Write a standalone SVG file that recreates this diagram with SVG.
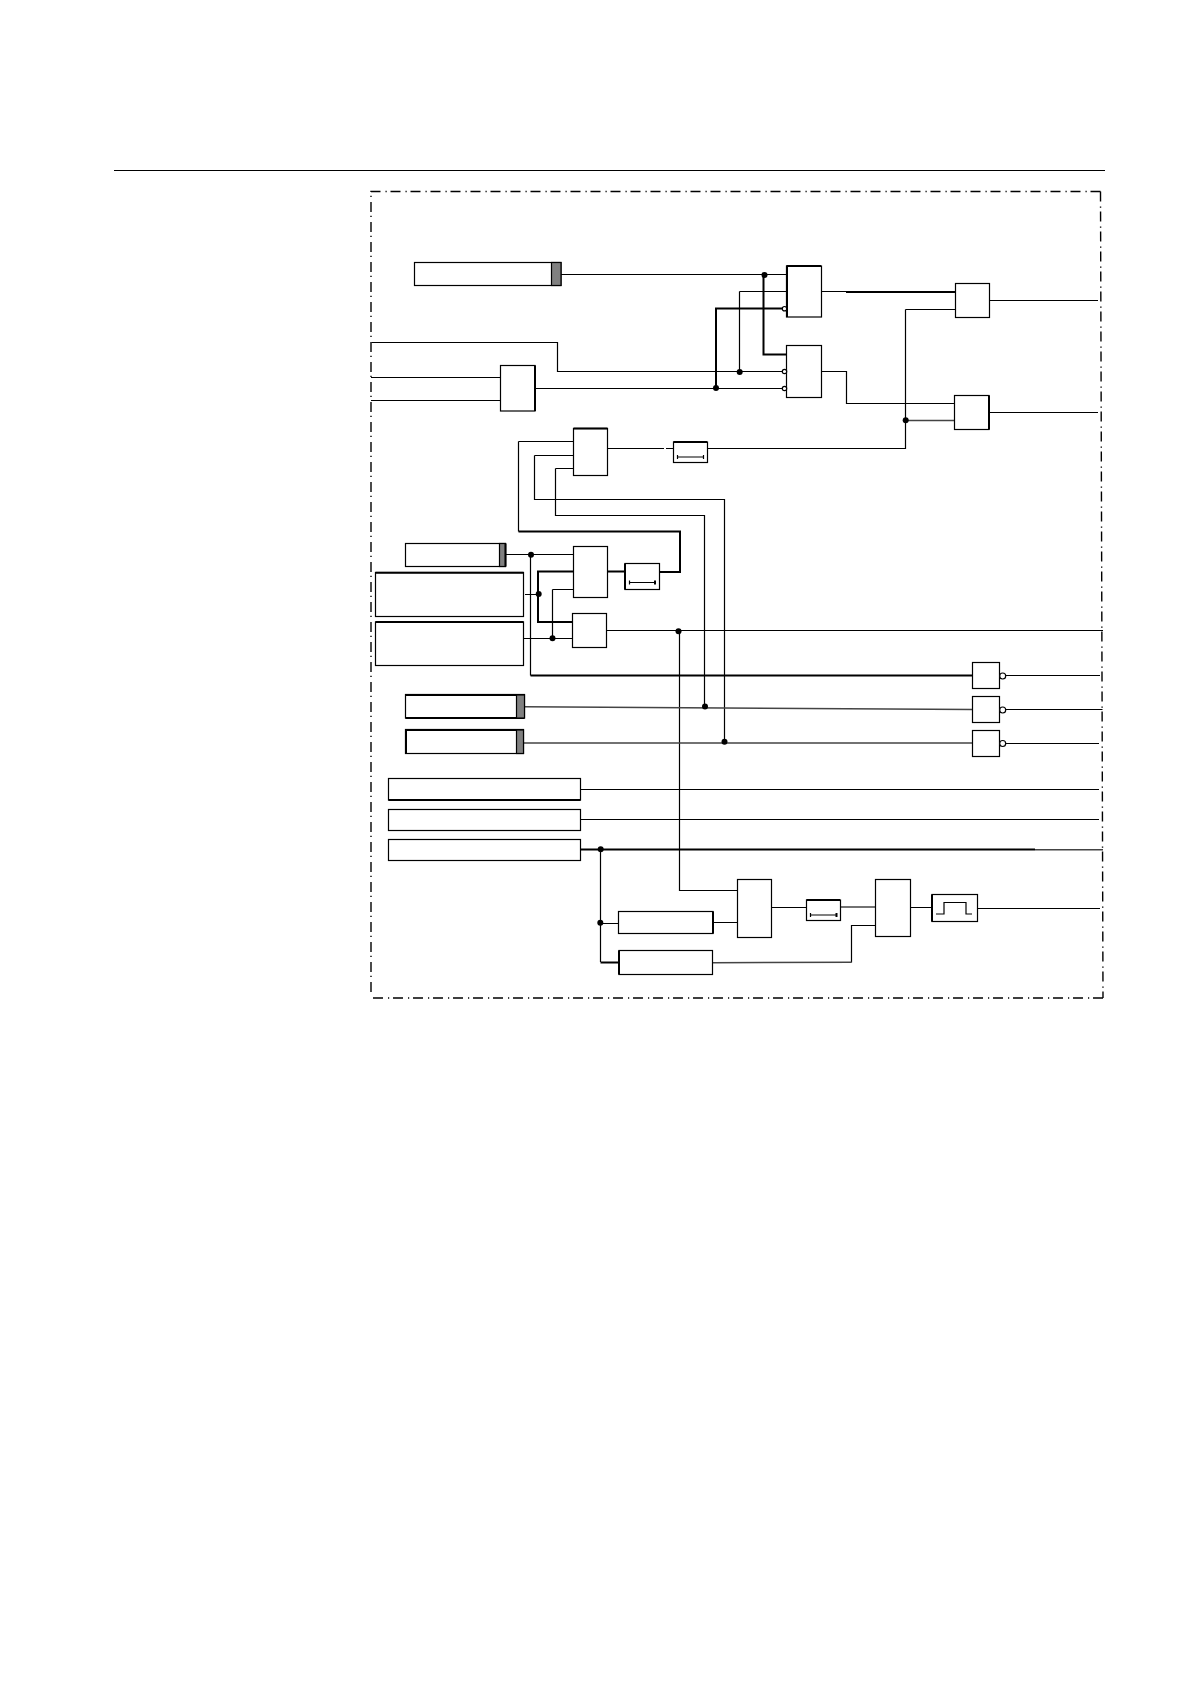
<svg xmlns="http://www.w3.org/2000/svg" width="1191" height="1684" viewBox="0 0 1191 1684">
<style>
.b{fill:#fff;stroke:#000;stroke-width:1.2}
.e{fill:none;stroke:#000;stroke-width:2}
.g{fill:#808080;stroke:#000;stroke-width:1.2}
.w{fill:none;stroke:#000;stroke-width:1.2}
.t{fill:none;stroke:#000;stroke-width:2}
.d{fill:none;stroke:#444;stroke-width:1.5}
.f{fill:none;stroke:#000;stroke-width:1.4;stroke-dasharray:10 5 1.2 3.8}
.n{fill:#fff;stroke:#000;stroke-width:1.2}
.j{fill:#000}
</style>
<rect width="1191" height="1684" fill="#fff"/>
<path d="M114 170.500H1105" class="w"/>
<g id="frame">
<path class="f" d="M371 992V191.500H1100.500"/>
<path class="f" d="M1100.500 191.500L1103 998"/>
<path class="f" d="M373 998H1103"/>
</g>
<g id="connectors">
<path class="w" d="M561 274.500H786.500M739.500 291.500H786.500M739.500 291.500V372M371.500 342.500H557.500V371.500H782M371 377.500H501M371 400.500H501M535 388.500H782M821 291.500H846M989.500 300.500H1098M905.500 309.500H955M905.500 309.500V448.500H707M821 371.500H846.500V403.500H954M989 412.500H1098M607 448.500H664M666 448.500H673.500M518.500 441.500H573M518.500 441.500V531.500M534.500 455.500H573M534.500 455.500V499.500H724.500V742M555.500 468.500H573M555.500 468.500V515.500H704.500V707M506 554.500H573M530.500 554.500V675.500M525 594.500H538M524 638.500H572M552.500 589.500V638.500H552.500M552.500 589.500H573M606.500 630.500H1103M679.500 631V890.500H737M1006 675.500H1100M1006 709.500H1102.500M1006 743.500H1099M580 789.500H1099M580 819.500H1099M600.500 849V962M600.500 923.500H618M713 922.500H737M851.500 962.500V925.500H875M771.500 907.500H806.500M910.500 907.500H932M978 908.500H1100M607 571.500H625"/>
<path class="t" d="M716 388V308.500H783M763.500 275V354.500H786.500M846 292H955M518.500 531.500H680V572H660M538 594V571.500H573M538 571.500V622H572M530.500 675.500H973M580 849.500H1035M600.500 962.500H618M607 571.500H625"/>
<path class="d" d="M525 706.800L972 709.500M524 743H972M905.500 420.500H954M1035 849.700H1103M712.700 962.700L851.500 962.300M840 907H875"/>
<circle class="j" cx="764.500" cy="275" r="3"/>
<circle class="j" cx="739.700" cy="372" r="3"/>
<circle class="j" cx="716" cy="388" r="3"/>
<circle class="j" cx="905.700" cy="420.300" r="3"/>
<circle class="j" cx="531" cy="554.700" r="3"/>
<circle class="j" cx="538.700" cy="594" r="3"/>
<circle class="j" cx="552.500" cy="638.300" r="3"/>
<circle class="j" cx="678.500" cy="631.300" r="3"/>
<circle class="j" cx="705" cy="706.500" r="3"/>
<circle class="j" cx="724.500" cy="741.700" r="3"/>
<circle class="j" cx="600.700" cy="849.300" r="3"/>
<circle class="j" cx="600.300" cy="922.700" r="3"/>
</g>
<g id="node-a"><rect class="b" x="414.500" y="262.500" width="146.500" height="23"/><rect class="g" x="551.500" y="262.500" width="9.500" height="23"/></g>
<g id="node-b"><rect class="b" x="500.500" y="365.500" width="34.500" height="45.500"/><path class="e" d="M535 365.500V411"/></g>
<g id="gate-1"><rect class="b" x="786.500" y="266" width="35" height="51"/><path class="e" d="M786.500 266H821M787 266V317"/><circle class="n" cx="784.500" cy="308.700" r="2.200"/></g>
<g id="gate-2"><rect class="b" x="786.500" y="345.500" width="35" height="52"/><circle class="n" cx="784.500" cy="371.500" r="2.200"/><circle class="n" cx="784.500" cy="388.500" r="2.200"/></g>
<g id="gate-3"><rect class="b" x="955.500" y="283.500" width="34" height="34"/></g>
<g id="gate-4"><rect class="b" x="954.500" y="395.500" width="34.500" height="34"/><path class="e" d="M989 395.500V429.500"/></g>
<g id="gate-c"><rect class="b" x="573.500" y="428.500" width="34" height="47"/><path class="e" d="M573.500 428.500H607.500"/></g>
<g id="timer-1"><rect class="b" x="673.500" y="442" width="34" height="20.500"/><path class="e" d="M673.500 442H707"/><path class="w" d="M677.500 457H703.500M677.500 455V459M703.500 455V459"/></g>
<g id="gate-d"><rect class="b" x="573.500" y="546.500" width="34" height="51"/></g>
<g id="timer-2"><rect class="b" x="625" y="563.500" width="34.500" height="26"/><path class="e" d="M625 563.500V589.500"/><path class="w" d="M629.500 582.500H655M629.500 580.500V584.500"/><path class="e" d="M655 580.500V584.500"/></g>
<g id="gate-e"><rect class="b" x="572.500" y="613.500" width="34" height="34"/></g>
<g id="node-f"><rect class="b" x="405.500" y="543.500" width="100" height="23"/><rect class="g" x="499.500" y="543.500" width="6" height="23"/><path class="e" d="M505.500 543.500V566.500"/></g>
<g id="node-g"><rect class="b" x="375.500" y="572.500" width="148" height="44"/><path class="e" d="M375.500 572.800H523.500"/></g>
<g id="node-h"><rect class="b" x="375.500" y="622" width="148" height="43.500"/><path class="e" d="M375.500 622H523.500"/></g>
<g id="node-j"><rect class="b" x="405.500" y="694.500" width="119" height="23.500"/><path class="e" d="M405.500 695H524M405.500 718H524"/><rect class="g" x="516.500" y="695" width="8" height="23"/></g>
<g id="node-k"><rect class="b" x="405.500" y="729.500" width="118" height="24"/><path class="e" d="M405.500 730H523M406 730V753"/><rect class="g" x="516.500" y="730" width="7" height="23.500"/></g>
<g id="node-l"><rect class="b" x="388.500" y="778.500" width="192" height="21.500"/><path class="e" d="M388.500 800H580.500"/></g>
<g id="node-m"><rect class="b" x="388.500" y="809.500" width="192" height="21"/></g>
<g id="node-p"><rect class="b" x="388.500" y="839.500" width="192" height="21"/></g>
<g id="node-q"><rect class="b" x="618.500" y="911.500" width="94.500" height="22"/><path class="e" d="M713 911.500V933.500"/></g>
<g id="node-r"><rect class="b" x="619" y="950.500" width="93.500" height="24"/><path class="e" d="M619 950.500V974.500"/></g>
<g id="gate-s"><rect class="b" x="737.500" y="879.500" width="34" height="58"/></g>
<g id="timer-3"><rect class="b" x="806.500" y="900" width="34" height="20.500"/><path class="e" d="M806.500 900H840"/><path class="w" d="M810.500 915H836.500M810.500 913V917"/><path class="e" d="M836.500 913V917"/></g>
<g id="gate-u"><rect class="b" x="875.500" y="879.500" width="35" height="57"/></g>
<g id="pulse"><rect class="b" x="932" y="894.500" width="45.500" height="27"/><path class="e" d="M932 894.500V921.500"/><path class="w" d="M936 914H944V902.500H966V914H972"/></g>
<g id="not-1"><rect class="b" x="972.500" y="662.500" width="27" height="26"/><circle class="n" cx="1002.700" cy="676" r="3"/></g>
<g id="not-2"><rect class="b" x="972.500" y="696.500" width="27" height="26"/><circle class="n" cx="1002.700" cy="710" r="3"/></g>
<g id="not-3"><rect class="b" x="972.500" y="730.500" width="27" height="26"/><circle class="n" cx="1002.700" cy="743.500" r="3"/></g>
</svg>
